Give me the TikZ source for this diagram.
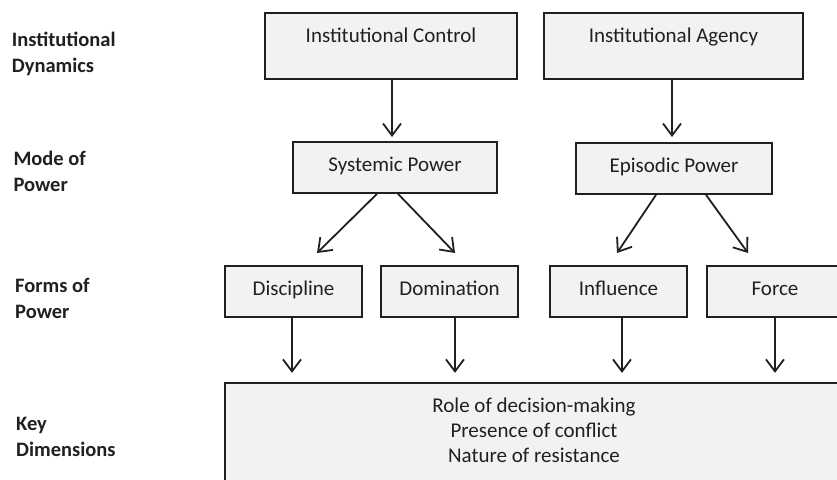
\documentclass[tikz,border=0pt]{standalone}
\usepackage{fontspec}
\setmainfont{Carlito}
\usetikzlibrary{arrows.meta}
\definecolor{ink}{HTML}{231F20}
\definecolor{boxfill}{HTML}{F1F2F4}
\tikzset{
  box/.style={draw=ink, fill=boxfill, line width=1.7pt, text=ink, inner xsep=0pt, inner ysep=0pt,
    font=\fontsize{21}{25}\selectfont, text height=29.5pt},
  conn/.style={draw=ink, line width=1.8pt, -{Straight Barb[length=12pt,width=18pt,line width=1.8pt]}},
  rowlabel/.style={anchor=base west, align=left, text=ink, inner sep=0pt,
    font=\fontsize{20.5}{26}\selectfont\bfseries},
}
\begin{document}
\begin{tikzpicture}[x=1pt,y=-1pt]
\useasboundingbox (0,0) rectangle (837,479);
\clip (0,0) rectangle (837,479);
% row labels (anchor = baseline of last line)
\node[rowlabel] (l1) at (11.7,72) {Institutional\\Dynamics};
\node[rowlabel] (l2) at (13.3,191) {Mode of\\Power};
\node[rowlabel] (l3) at (15,318) {Forms of\\Power};
\node[rowlabel] (l4) at (16,456) {Key\\Dimensions};
% top row
\node[box, minimum width=252pt, text depth=36.5pt] (ic) at (391,46) {Institutional Control};
\node[box, minimum width=259pt, text depth=36.5pt] (ia) at (673.5,46) {Institutional Agency};
% mode row
\node[box, minimum width=204pt, text depth=21.5pt] (sp) at (395,167.5) {Systemic Power};
\node[box, minimum width=196pt, text depth=21.5pt] (ep) at (674,168.5) {Episodic Power};
% forms row
\node[box, minimum width=137pt, text depth=21.5pt] (disc) at (293.5,291.5) {Discipline};
\node[box, minimum width=137pt, text depth=21.5pt] (dom) at (449.5,291.5) {Domination};
\node[box, minimum width=137pt, text depth=21.5pt] (inf) at (618.5,291.5) {Influence};
\node[box, minimum width=136pt, text depth=21.5pt] (force) at (775,291.5) {Force};
% key dimensions
\node[box, minimum width=618pt, minimum height=137pt, text height=0pt, text depth=0pt] (key) at (534,451.5) {};
\node[align=center, text=ink, inner sep=0pt, anchor=base, font=\fontsize{21}{25}\selectfont] (keytext) at (534,462)
  {Role of decision-making\\Presence of conflict\\Nature of resistance};
% tips
\coordinate (t1) at (392,137);
\coordinate (t2) at (672,137);
\coordinate (t3) at (317,253);
\coordinate (t4) at (455,253);
\coordinate (t5) at (617,253);
\coordinate (t6) at (748,253);
% connectors
\draw[conn] (ic.south -| t1) -- (t1);
\draw[conn] (ia.south -| t2) -- (t2);
\draw[conn] ([xshift=-18pt]sp.south) -- (t3);
\draw[conn] ([xshift=3pt]sp.south) -- (t4);
\draw[conn] ([xshift=-18pt]ep.south) -- (t5);
\draw[conn] ([xshift=32pt]ep.south) -- (t6);
\draw[conn] ([xshift=-1.5pt]disc.south) -- ++(0,55);
\draw[conn] ([xshift=5.5pt]dom.south) -- ++(0,55);
\draw[conn] ([xshift=3.5pt]inf.south) -- ++(0,55);
\draw[conn] (force.south) -- ++(0,55);
\end{tikzpicture}
\end{document}
